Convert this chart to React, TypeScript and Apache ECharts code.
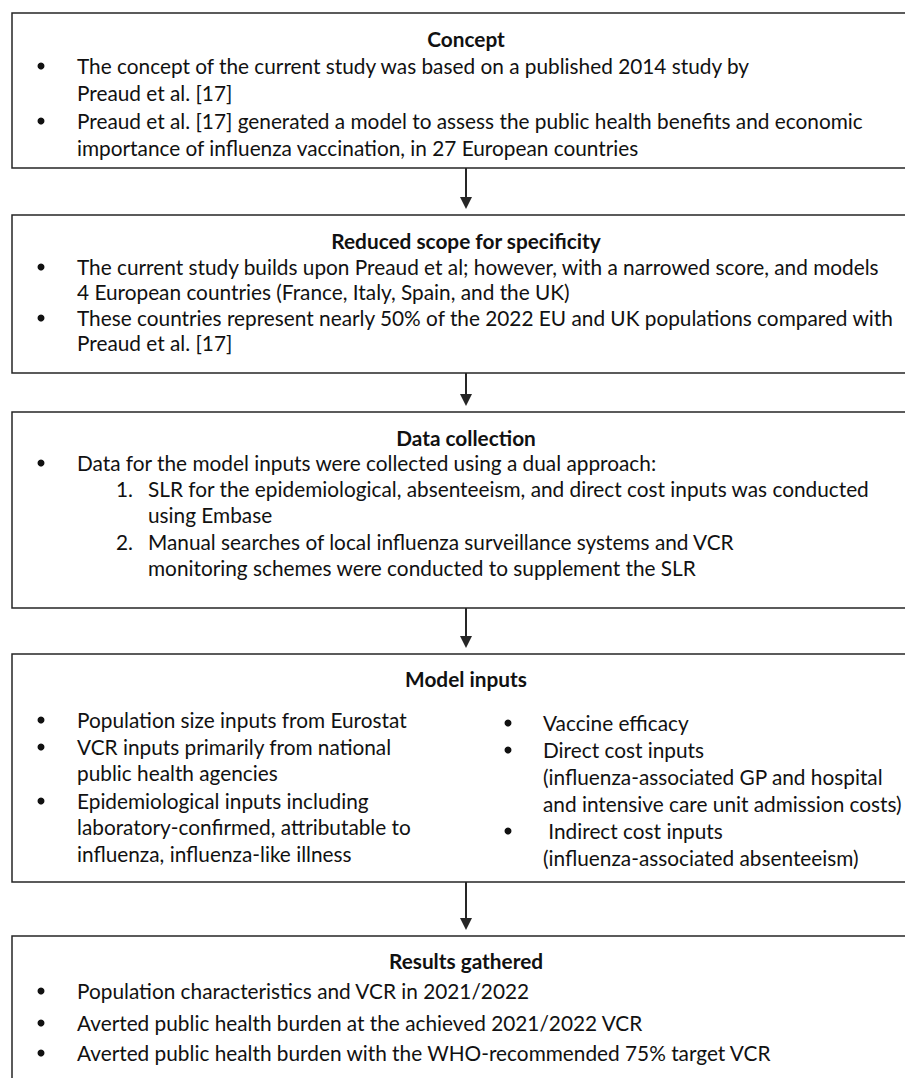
import React, { useEffect, useRef } from "react";
import * as echarts from "echarts";

// ---- content ----
const titles = [
  "Concept",
  "Reduced scope for specificity",
  "Data collection",
  "Model inputs",
  "Results gathered",
];

// [marker, text, level]  marker: "b" bullet, "1." / "2." numbered, "" continuation
const conceptLines: [string, string, number][] = [
  ["b", "The concept of the current study was based on a published 2014 study by", 0],
  ["", "Preaud et al. [17]", 0],
  ["b", "Preaud et al. [17] generated a model to assess the public health benefits and economic", 0],
  ["", "importance of influenza vaccination, in 27 European countries", 0],
];
const scopeLines: [string, string, number][] = [
  ["b", "The current study builds upon Preaud et al; however, with a narrowed score, and models", 0],
  ["", "4 European countries (France, Italy, Spain, and the UK)", 0],
  ["b", "These countries represent nearly 50% of the 2022 EU and UK populations compared with", 0],
  ["", "Preaud et al. [17]", 0],
];
const dataLines: [string, string, number][] = [
  ["b", "Data for the model inputs were collected using a dual approach:", 0],
  ["1.", "SLR for the epidemiological, absenteeism, and direct cost inputs was conducted", 1],
  ["", "using Embase", 1],
  ["2.", "Manual searches of local influenza surveillance systems and VCR", 1],
  ["", "monitoring schemes were conducted to supplement the SLR", 1],
];
const modelLeftLines: [string, string, number][] = [
  ["b", "Population size inputs from Eurostat", 0],
  ["b", "VCR inputs primarily from national", 0],
  ["", "public health agencies", 0],
  ["b", "Epidemiological inputs including", 0],
  ["", "laboratory-confirmed, attributable to", 0],
  ["", "influenza, influenza-like illness", 0],
];
const modelRightLines: [string, string, number][] = [
  ["b", "Vaccine efficacy", 2],
  ["b", "Direct cost inputs", 2],
  ["", "(influenza-associated GP and hospital", 2],
  ["", "and intensive care unit admission costs)", 2],
  ["b", " Indirect cost inputs", 2],
  ["", "(influenza-associated absenteeism)", 2],
];
const resultLines: [string, string, number][] = [
  ["b", "Population characteristics and VCR in 2021/2022", 0],
  ["b", "Averted public health burden at the achieved 2021/2022 VCR", 0],
  ["b", "Averted public health burden with the WHO-recommended 75% target VCR", 0],
];

// ---- layout (page pixels) ----
const FONT_FAMILY = "Lato, 'Noto Sans', sans-serif";
const FONT_SIZE = 20.8;
const BOX_LEFT = 12;
const BOX_RIGHT = 930;
const CENTER_X = 466;
// per level: [markerX, textX]
const LEVEL_X: [number, number][] = [
  [41, 77],
  [116, 148],
  [508, 543],
];

type Block = { lines: [string, string, number][]; ys: number[] };
type Box = { top: number; bottom: number; titleY: number; blocks: Block[] };

const boxes: Box[] = [
  { top: 13, bottom: 168, titleY: 38, blocks: [{ lines: conceptLines, ys: [65, 92, 120, 147] }] },
  { top: 215, bottom: 373, titleY: 240, blocks: [{ lines: scopeLines, ys: [266, 291, 317, 342] }] },
  { top: 412, bottom: 608, titleY: 437, blocks: [{ lines: dataLines, ys: [462, 488, 514, 541, 567] }] },
  {
    top: 654,
    bottom: 882,
    titleY: 678,
    blocks: [
      { lines: modelLeftLines, ys: [719, 746, 772, 800, 826, 853] },
      { lines: modelRightLines, ys: [722, 749, 776, 803, 830, 857] },
    ],
  },
  { top: 936, bottom: 1110, titleY: 960, blocks: [{ lines: resultLines, ys: [990, 1022, 1052] }] },
];

const INK = "#111111";
const LINE = "#262626";

function buildGraphics() {
  const els: any[] = [];
  boxes.forEach((b, i) => {
    els.push({
      type: "rect",
      shape: { x: BOX_LEFT, y: b.top, width: BOX_RIGHT - BOX_LEFT, height: b.bottom - b.top },
      style: { fill: "#ffffff", stroke: LINE, lineWidth: 1.5 },
    });
    els.push({
      type: "text",
      x: CENTER_X,
      y: b.titleY,
      style: {
        text: titles[i],
        font: `bold ${FONT_SIZE}px ${FONT_FAMILY}`,
        fill: INK,
        align: "center",
        verticalAlign: "middle",
        textAlign: "center",
        textVerticalAlign: "middle",
      },
    });
    b.blocks.forEach((blk) => {
      blk.lines.forEach(([marker, text, level], k) => {
        const y = blk.ys[k];
        const [mx, tx] = LEVEL_X[level];
        if (marker === "b") {
          els.push({ type: "circle", shape: { cx: mx, cy: y + 1, r: 3.5 }, style: { fill: INK } });
        } else if (marker) {
          els.push({
            type: "text",
            x: mx,
            y,
            style: {
              text: marker,
              font: `${FONT_SIZE}px ${FONT_FAMILY}`,
              fill: INK,
              align: "left",
              verticalAlign: "middle",
              textAlign: "left",
              textVerticalAlign: "middle",
            },
          });
        }
        els.push({
          type: "text",
          x: tx,
          y,
          style: {
            text,
            font: `${FONT_SIZE}px ${FONT_FAMILY}`,
            fill: INK,
            align: "left",
            verticalAlign: "middle",
            textAlign: "left",
            textVerticalAlign: "middle",
          },
        });
      });
    });
    if (i < boxes.length - 1) {
      const next = boxes[i + 1];
      const tip = next.top - 6;
      els.push({
        type: "line",
        shape: { x1: CENTER_X, y1: b.bottom, x2: CENTER_X, y2: tip - 10 },
        style: { stroke: LINE, lineWidth: 2 },
      });
      els.push({
        type: "polygon",
        shape: { points: [[CENTER_X - 6, tip - 12], [CENTER_X + 6, tip - 12], [CENTER_X, tip]] },
        style: { fill: LINE },
      });
    }
  });
  return els;
}

export default function App() {
  const ref = useRef<HTMLDivElement>(null);
  useEffect(() => {
    if (!ref.current) return;
    const chart = echarts.init(ref.current, undefined, { renderer: "svg" });
    chart.setOption({
      animation: false,
      backgroundColor: "#ffffff",
      graphic: { elements: buildGraphics() },
    });
    return () => chart.dispose();
  }, []);
  return (
    <div
      ref={ref}
      style={{ position: "fixed", left: 0, top: 0, width: 905, height: 1078, background: "#fff" }}
    />
  );
}
